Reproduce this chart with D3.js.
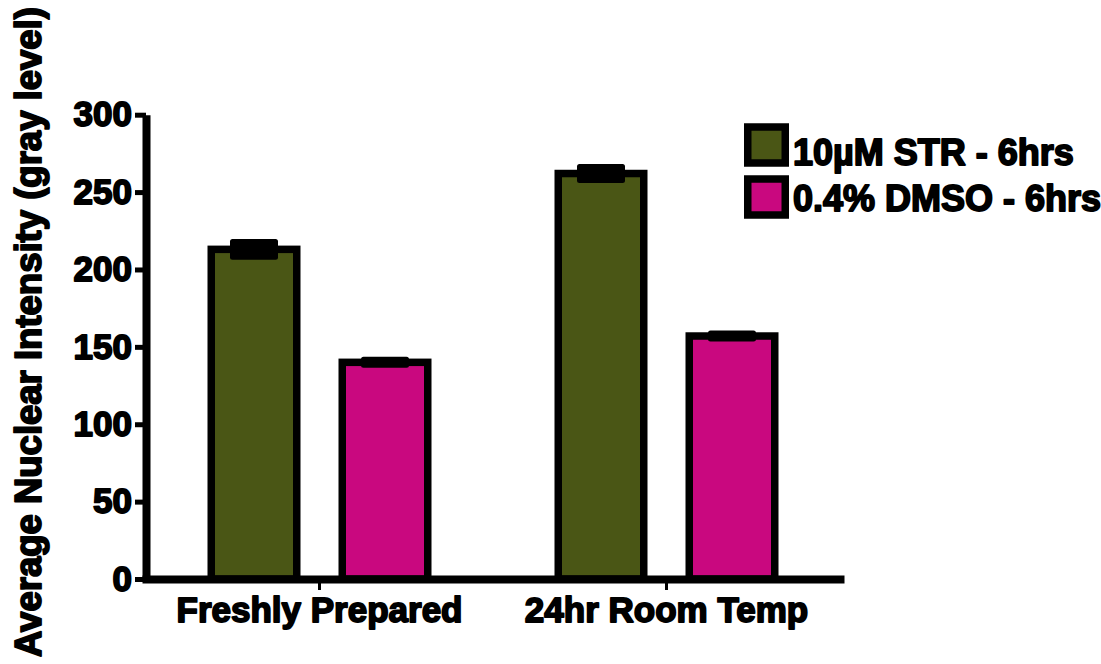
<!DOCTYPE html>
<html><head><meta charset="utf-8">
<script src="https://cdn.jsdelivr.net/npm/d3@7/dist/d3.min.js"></script>
<style>
body{margin:0;background:#fff}
svg text{font-family:"Liberation Sans",Arial,Helvetica,sans-serif;font-weight:bold;fill:#000;stroke:#000;stroke-width:1.8px;stroke-linejoin:round}
</style>
</head><body>
<svg id="c" width="1101" height="664"></svg>
<script>
const categories = ["Freshly Prepared", "24hr Room Temp"];
const seriesNames = ["10\u00b5M STR - 6hrs", "0.4% DMSO - 6hrs"];
const strValues = [213, 262];
const strErrors = [4.5, 3.9];
const dmsoValues = [140, 157];
const dmsoErrors = [1.3, 1.3];
const yTicks = [0, 50, 100, 150, 200, 250, 300];
const yTitle = "Average Nuclear Intensity (gray level)";
const colors = ["#4a5615", "#c9087f"];

const svg = d3.select("#c");
const y = d3.scaleLinear().domain([0, 300]).range([579, 114.7]);
const x0 = d3.scaleBand().domain(categories).range([146, 840]);
const x1 = d3.scalePoint().domain(seriesNames).range([-65.5, 65.5]);
const color = d3.scaleOrdinal().domain(seriesNames).range(colors);
const barW = 85.5, capW = 48, sw = 7.5;

const rows = [];
categories.forEach((c, i) => {
  rows.push({cat: c, s: seriesNames[0], v: strValues[i], e: strErrors[i]});
  rows.push({cat: c, s: seriesNames[1], v: dmsoValues[i], e: dmsoErrors[i]});
});
const center = d => x0(d.cat) + x0.bandwidth() / 2 + x1(d.s);

// bars
svg.append("g").selectAll("rect").data(rows).join("rect")
  .attr("x", d => center(d) - barW / 2)
  .attr("y", d => y(d.v))
  .attr("width", barW)
  .attr("height", d => y(0) - y(d.v))
  .attr("fill", d => color(d.s))
  .attr("stroke", "#000").attr("stroke-width", sw);

// error bars
svg.append("g").selectAll("rect").data(rows).join("rect")
  .attr("x", d => center(d) - capW / 2)
  .attr("y", d => y(d.v + d.e) - 3.5)
  .attr("width", capW)
  .attr("height", d => y(d.v - d.e) - y(d.v + d.e) + 7)
  .attr("rx", 2.5)
  .attr("fill", "#000");

// y axis
const ga = svg.append("g").attr("transform", "translate(146,0)")
  .call(d3.axisLeft(y).tickValues(yTicks).tickSize(11).tickSizeOuter(0).tickPadding(3).tickFormat(d3.format("d")));
ga.select(".domain").attr("stroke", "#000").attr("stroke-width", 8);
ga.selectAll(".tick line").attr("stroke", "#000").attr("stroke-width", 5);
ga.selectAll(".tick text").style("font-size", "35px");

// x axis
const gx = svg.append("g").attr("transform", "translate(0,579)")
  .call(d3.axisBottom(x0).tickSize(11).tickSizeOuter(0).tickPadding(7));
gx.select(".domain").attr("stroke", "#000").attr("stroke-width", 8).attr("stroke-linecap", "square");
gx.selectAll(".tick line").attr("stroke", "#000").attr("stroke-width", 3);
gx.selectAll(".tick text").style("font-size", "35px");

// y title
svg.append("text")
  .attr("transform", "translate(41,332) rotate(-90)")
  .attr("text-anchor", "middle")
  .style("font-size", "36.5px")
  .text(yTitle);

// legend
const lg = svg.append("g").selectAll("g").data(seriesNames).join("g")
  .attr("transform", (d, i) => `translate(766.5,${145 + i * 52})`);
lg.append("rect")
  .attr("x", -18.75).attr("y", -18).attr("width", 37.5).attr("height", 36)
  .attr("fill", d => color(d)).attr("stroke", "#000").attr("stroke-width", sw);
lg.append("text")
  .attr("x", 26.5).attr("y", (d, i) => 20 - i * 6)
  .style("font-size", "36px")
  .text(d => d);
</script>
</body></html>
